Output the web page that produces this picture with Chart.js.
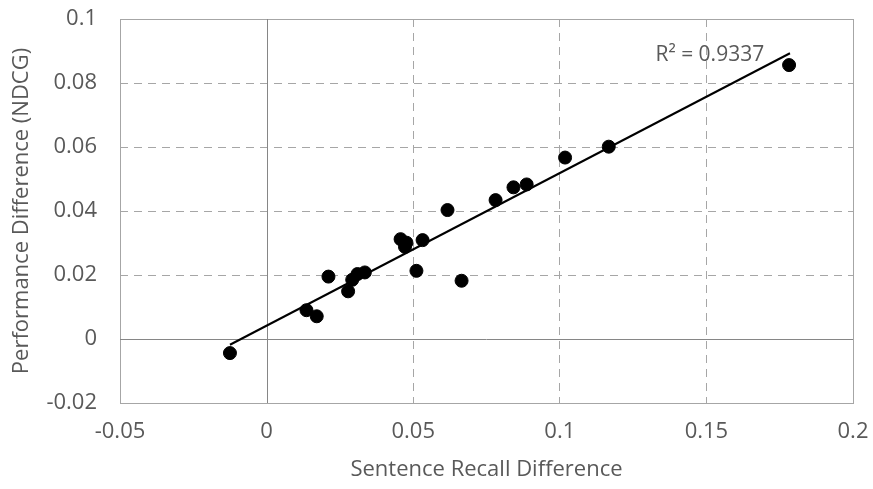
<!DOCTYPE html>
<html>
<head>
<meta charset="utf-8">
<script src="https://cdn.jsdelivr.net/npm/chart.js@4"></script>
<style>
  html, body { margin: 0; padding: 0; background: #fff; }
  #wrap { width: 873px; height: 489px; }
</style>
</head>
<body>
<div id="wrap"><canvas id="chart" width="873" height="489"></canvas></div>
<script>
// sentence recall difference vs NDCG difference
const recallDiff = [-0.0125, 0.0136, 0.0171, 0.0211, 0.0278, 0.0292, 0.0310, 0.0335, 0.0457, 0.0477, 0.0472,
  0.0532, 0.0511, 0.0617, 0.0665, 0.0781, 0.0842, 0.0887, 0.1018, 0.1167, 0.1782];
const ndcgDiff = [-0.0044, 0.0090, 0.0071, 0.0195, 0.0149, 0.0185, 0.0203, 0.0208, 0.0312, 0.0301, 0.0288,
  0.0309, 0.0213, 0.0403, 0.0182, 0.0434, 0.0474, 0.0483, 0.0567, 0.0601, 0.0856];
// linear trendline ends, as drawn
const trendX = [-0.0125, 0.1785];
const trendY = [-0.0018, 0.0893];
const r2Label = 'R² = 0.9337';
const r2Pos = [0.1697, 0.0888];
const xTicks = [-0.05, 0, 0.05, 0.1, 0.15, 0.2];
const yTicks = [-0.02, 0, 0.02, 0.04, 0.06, 0.08, 0.1];

const FONT = "'Open Sans', sans-serif";
const TXT = '#595959';
const FS = 22;

const points = recallDiff.map((x, i) => ({ x: x, y: ndcgDiff[i] }));
const trend = trendX.map((x, i) => ({ x: x, y: trendY[i] }));

// solid lines for the zero axes and the plot border, plus the R² text
const framePlugin = {
  id: 'frame',
  beforeDatasetsDraw(chart) {
    const { ctx, chartArea: a, scales: { x, y } } = chart;
    ctx.save();
    ctx.lineWidth = 1;
    ctx.strokeStyle = '#a6a6a6';
    ctx.strokeRect(a.left + 0.5, a.top + 0.5, a.right - a.left, a.bottom - a.top);
    ctx.strokeStyle = '#868686';
    const x0 = Math.round(x.getPixelForValue(0)) + 0.5;
    const y0 = Math.round(y.getPixelForValue(0)) + 0.5;
    ctx.beginPath();
    ctx.moveTo(x0, a.top); ctx.lineTo(x0, a.bottom);
    ctx.moveTo(a.left, y0); ctx.lineTo(a.right, y0);
    ctx.stroke();
    ctx.restore();
  },
  afterDatasetsDraw(chart) {
    const { ctx, scales: { x, y } } = chart;
    ctx.save();
    ctx.font = '21px ' + FONT;
    ctx.fillStyle = TXT;
    ctx.textAlign = 'right';
    ctx.textBaseline = 'middle';
    ctx.fillText(r2Label, x.getPixelForValue(r2Pos[0]), y.getPixelForValue(r2Pos[1]));
    ctx.restore();
  }
};

const gridColor = (ctx) => {
  const v = ctx.tick ? ctx.tick.value : null;
  if (v === null || Math.abs(v) < 1e-9) return 'rgba(0,0,0,0)';
  return '#a6a6a6';
};

new Chart(document.getElementById('chart'), {
  type: 'scatter',
  data: {
    datasets: [
      {
        label: 'data',
        data: points,
        backgroundColor: '#000',
        borderColor: '#000',
        pointRadius: 6.5,
        pointHoverRadius: 6.5,
        order: 1
      },
      {
        label: 'trend',
        type: 'line',
        data: trend,
        borderColor: '#000',
        borderWidth: 2,
        pointRadius: 0,
        fill: false,
        order: 2
      }
    ]
  },
  options: {
    responsive: false,
    animation: false,
    layout: { padding: { top: 19, right: 20, left: 0, bottom: 0 } },
    plugins: { legend: { display: false }, tooltip: { enabled: false } },
    scales: {
      x: {
        type: 'linear',
        min: -0.05,
        max: 0.2,
        afterBuildTicks: (s) => { s.ticks = xTicks.map(v => ({ value: v })); },
        afterFit: (s) => { s.height = 86; s.paddingLeft = 0; s.paddingRight = 0; },
        grid: { color: gridColor, drawTicks: false, lineWidth: 1 },
        border: { display: false, dash: [8, 6] },
        ticks: { color: TXT, font: { family: FONT, size: FS }, padding: 16, maxRotation: 0,
          callback: (v) => String(+v.toFixed(2)) },
        title: { display: true, text: 'Sentence Recall Difference', color: TXT,
          font: { family: FONT, size: FS }, padding: { top: 0, bottom: 6 } }
      },
      y: {
        type: 'linear',
        min: -0.02,
        max: 0.1,
        afterBuildTicks: (s) => { s.ticks = yTicks.map(v => ({ value: v })); },
        afterFit: (s) => { s.width = 120; s.paddingTop = 0; s.paddingBottom = 0; },
        grid: { color: gridColor, drawTicks: false, lineWidth: 1 },
        border: { display: false, dash: [8, 6] },
        ticks: { color: TXT, font: { family: FONT, size: FS }, padding: 23,
          callback: (v) => String(+v.toFixed(2)) },
        title: { display: true, text: 'Performance Difference (NDCG)', color: TXT,
          font: { family: FONT, size: FS }, padding: { top: 9, bottom: 0 } }
      }
    }
  },
  plugins: [framePlugin]
});
</script>
</body>
</html>
